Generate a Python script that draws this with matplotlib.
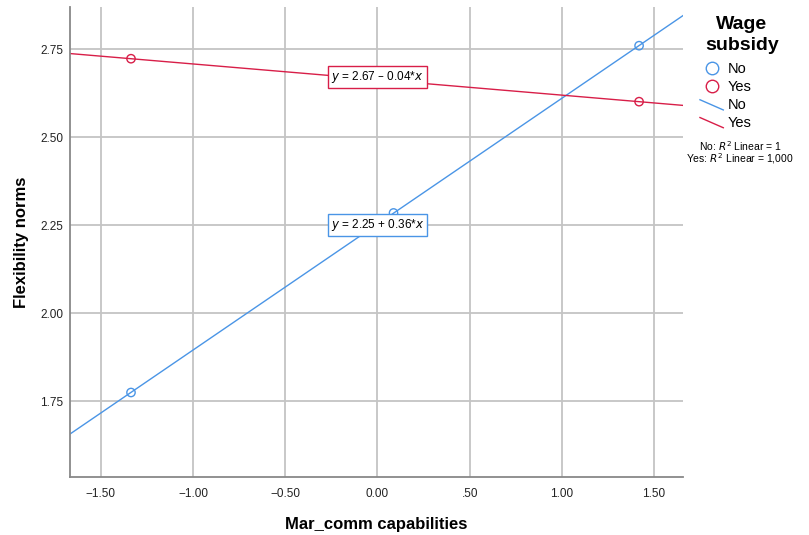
import numpy as np
import matplotlib
matplotlib.use("Agg")
import matplotlib.pyplot as plt
from matplotlib.lines import Line2D
from matplotlib.legend_handler import HandlerLine2D

plt.rcParams['font.family'] = ['Liberation Sans', 'DejaVu Sans']

# data
no_x = [-1.337, 0.087, 1.419]
no_y = [1.775, 2.285, 2.760]
yes_x = [-1.337, 1.419]
yes_y = [2.723, 2.601]
no_eq = [2.25, 0.36]
yes_eq = [2.67, -0.04]
x_ticks = [-1.5, -1.0, -0.5, 0.0, 0.5, 1.0, 1.5]
x_labels = ['\u22121.50', '\u22121.00', '\u22120.50', '0.00', '.50', '1.00', '1.50']
y_ticks = [1.75, 2.00, 2.25, 2.50, 2.75]
y_labels = ['1.75', '2.00', '2.25', '2.50', '2.75']

blue = '#4a95e6'
red = '#d81e48'
xlim = (-1.668, 1.657)
ylim = (1.535, 2.87)


class DiagHandler(HandlerLine2D):
    # legend line drawn as a short diagonal stroke, like SPSS
    def create_artists(self, legend, orig_handle, xdescent, ydescent, width, height, fontsize, trans):
        ln = Line2D([0, width], [height * 0.9, -height * 0.1], color=orig_handle.get_color(),
                    linewidth=orig_handle.get_linewidth(), transform=trans)
        return [ln]


fig = plt.figure(figsize=(8.09, 5.35), dpi=100)
ax = fig.add_axes([0.0865, 0.1084, 0.7577, 0.8786])

ax.set_xlim(xlim)
ax.set_ylim(ylim)
ax.set_xticks(x_ticks)
ax.set_xticklabels(x_labels)
ax.set_yticks(y_ticks)
ax.set_yticklabels(y_labels)
ax.grid(True, color='#c4c4c4', linewidth=1.3)
ax.set_axisbelow(True)
ax.tick_params(length=0, labelsize=8.5, colors='#222222')
ax.tick_params(axis='x', pad=8)
ax.tick_params(axis='y', pad=5)
for s in ['top', 'right']:
    ax.spines[s].set_visible(False)
for s in ['left', 'bottom']:
    ax.spines[s].set_color('#888888')
    ax.spines[s].set_linewidth(1.3)

# fit lines through the points
xs = np.array(xlim)
b1, b0 = np.polyfit(no_x, no_y, 1)
ax.plot(xs, b0 + b1 * xs, color=blue, linewidth=1.0)
b1, b0 = np.polyfit(yes_x, yes_y, 1)
ax.plot(xs, b0 + b1 * xs, color=red, linewidth=1.0)

ax.scatter(no_x, no_y, s=36, facecolors='none', edgecolors=blue, linewidths=1.0, zorder=3)
ax.scatter(yes_x, yes_y, s=36, facecolors='none', edgecolors=red, linewidths=1.0, zorder=3)

# equation boxes
ax.text(0, yes_eq[0], '$y$ = %.2f \u2013 %.2f*$x$' % (yes_eq[0], abs(yes_eq[1])),
        ha='center', va='center', fontsize=8.5, zorder=4,
        bbox=dict(boxstyle='square,pad=0.25', facecolor='white', edgecolor=red, linewidth=1.0))
ax.text(0, no_eq[0], '$y$ = %.2f + %.2f*$x$' % (no_eq[0], no_eq[1]),
        ha='center', va='center', fontsize=8.5, zorder=4,
        bbox=dict(boxstyle='square,pad=0.25', facecolor='white', edgecolor=blue, linewidth=1.0))

ax.set_xlabel('Mar_comm capabilities', fontsize=12, fontweight='bold', labelpad=12)
ax.set_ylabel('Flexibility norms', fontsize=12, fontweight='bold', labelpad=8)

# legend: title as separate text so it can sit centred over the whole block
fig.text(0.917, 0.97, 'Wage\nsubsidy', ha='center', va='top', fontsize=14,
         fontweight='bold', multialignment='center', linespacing=1.3)

handles = [
    Line2D([], [], linestyle='none', marker='o', markersize=9, markerfacecolor='none',
           markeredgecolor=blue, markeredgewidth=1.0),
    Line2D([], [], linestyle='none', marker='o', markersize=9, markerfacecolor='none',
           markeredgecolor=red, markeredgewidth=1.0),
    Line2D([], [], color=blue, linewidth=1.0),
    Line2D([], [], color=red, linewidth=1.0),
]
leg = fig.legend(handles, ['No', 'Yes', 'No', 'Yes'], loc='upper left',
                 bbox_to_anchor=(0.849, 0.908), frameon=False, fontsize=10.5,
                 handlelength=1.6, handletextpad=0.3, labelspacing=0.26,
                 handler_map={handles[2]: DiagHandler(), handles[3]: DiagHandler()})

fig.text(0.915, 0.718, 'No: $R^2$ Linear = 1', ha='center', fontsize=7.5)
fig.text(0.915, 0.696, 'Yes: $R^2$ Linear = 1,000', ha='center', fontsize=7.5)

fig.savefig('out.png', dpi=100)
